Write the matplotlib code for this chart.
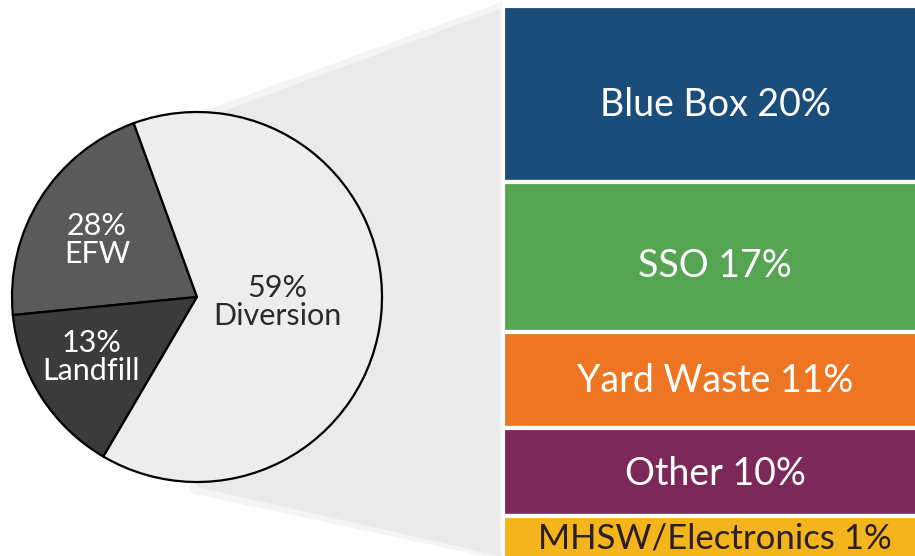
import matplotlib
matplotlib.use("Agg")
import matplotlib.pyplot as plt
import numpy as np

plt.rcParams['font.family'] = ['Lato', 'DejaVu Sans']

# ---- data ----
pie_names = ["EFW", "Landfill", "Diversion"]
pie_pct_text = ["28%", "13%", "59%"]
pie_drawn_shares = [21, 15, 64]
pie_colors = ["#5a5a5a", "#3b3b3b", "#ededed"]
pie_text_colors = ["white", "white", "#2b2b2b"]

bar_names = ["Blue Box", "SSO", "Yard Waste", "Other", "MHSW/Electronics"]
bar_values = [20, 17, 11, 10, 1]
bar_colors = ["#1b4d7b", "#55a452", "#ee7623", "#7c2859", "#f4b41c"]
bar_text_colors = ["white", "white", "white", "white", "#2a1e2a"]

# ---- layout ----
W, H = 915, 556
fig = plt.figure(figsize=(W / 100, H / 100), dpi=100)
ax = fig.add_axes([0, 0, 1, 1])
ax.set_xlim(0, W)
ax.set_ylim(H, 0)
ax.axis('off')

# funnel shading from pie to bar
ax.fill([190, 502, 502, 190], [116, 2, 560, 493], color="#f4f4f4", lw=0, zorder=1)
ax.fill([197, 500, 500, 197], [121, 9, 556, 487], color="#eaeaea", lw=0, zorder=2)

# pie
cx, cy, r = 197, 297, 185
pad = 1.03
axp = fig.add_axes([(cx - r * pad) / W, (H - cy - r * pad) / H, 2 * r * pad / W, 2 * r * pad / H])
axp.pie(pie_drawn_shares, colors=pie_colors, startangle=110, counterclock=True,
        radius=1, wedgeprops=dict(edgecolor="black", linewidth=1.6))
axp.set_xlim(-pad, pad)
axp.set_ylim(-pad, pad)
axp.set_aspect('equal')
axp.axis('off')

label_pos = {"EFW": (97, 240), "Landfill": (91, 357), "Diversion": (277, 302)}
for name, pct, tc in zip(pie_names, pie_pct_text, pie_text_colors):
    x, y = label_pos[name]
    fig.text(x / W, 1 - y / H, f"{pct}\n{name}", ha="center", va="center", fontsize=22,
             color=tc, linespacing=1.02, zorder=10)

# stacked bar
px_per_unit = 8.8
top_px = 6
axb = fig.add_axes([503 / W, 0, (W - 503) / W, 1])
axb.set_facecolor('none')
axb.set_xlim(0, 1)
axb.set_ylim((H - top_px) / px_per_unit, -top_px / px_per_unit)
axb.axis('off')

disp_heights = [max(v, 5) for v in bar_values]
bottoms = np.concatenate([[0], np.cumsum(disp_heights)[:-1]])
nudges = [1.3, 1.0, 0.1, 0.2, 0.0]
sizes = [27, 27, 27, 27, 25]
for name, v, h, b, c, tc, nd, fs in zip(bar_names, bar_values, disp_heights, bottoms,
                                         bar_colors, bar_text_colors, nudges, sizes):
    axb.bar(0, h, bottom=b, width=1.3, align='edge', color=c, edgecolor='white', linewidth=3)
    axb.text((715 - 503) / (W - 503), b + h / 2 + nd, f"{name} {v}%", ha="center", va="center",
             fontsize=fs, color=tc)

fig.savefig("out.png", dpi=100)
